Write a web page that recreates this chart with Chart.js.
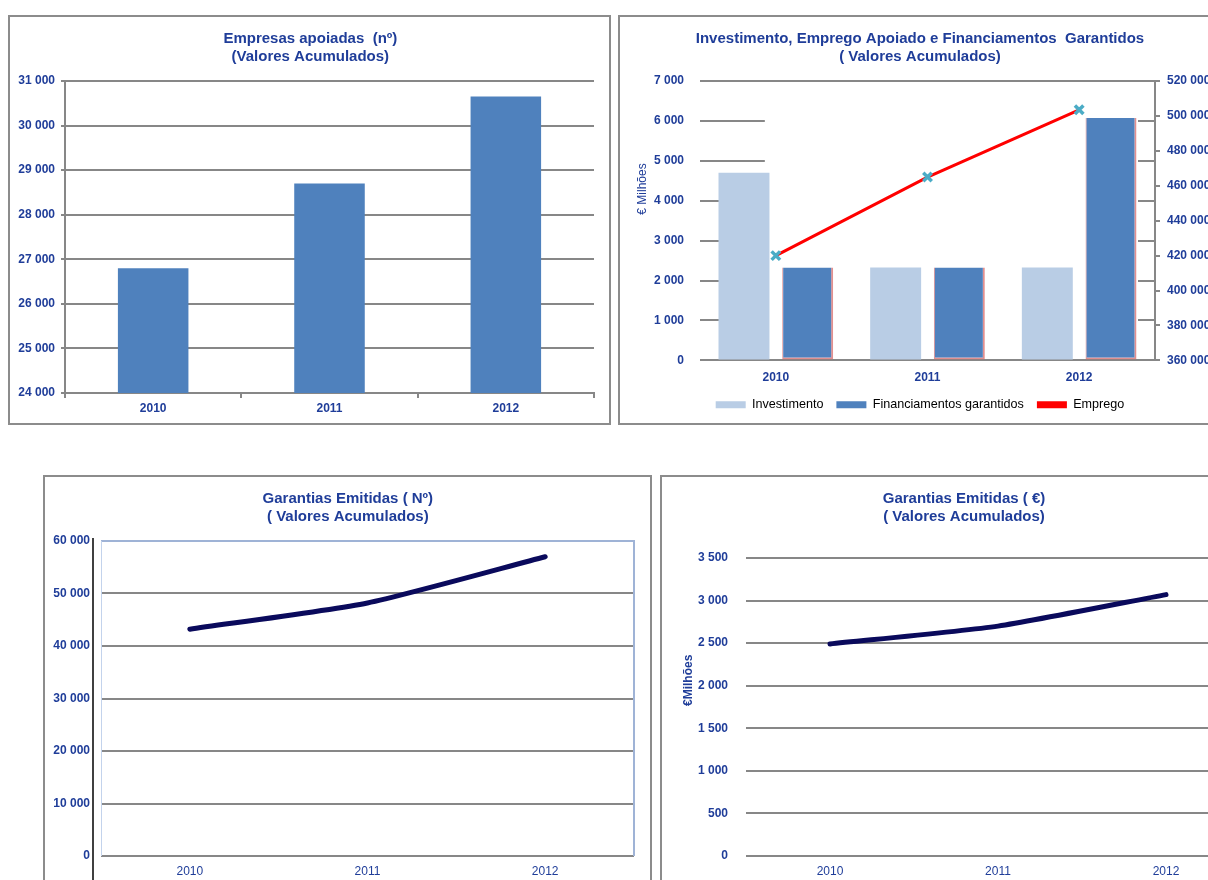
<!DOCTYPE html>
<html lang="pt">
<head>
<meta charset="UTF-8">
<title>Empresas apoiadas e garantias emitidas</title>
<script src="https://cdn.jsdelivr.net/npm/chart.js"></script>
<style>
  html, body { margin: 0; padding: 0; background: #fff; }
  body { width: 1208px; height: 880px; overflow: hidden; position: relative; }
  .panel { position: absolute; box-sizing: border-box; border: 2px solid #8c8c8c; background: #fff; }
  .panel canvas { position: absolute; left: 0; top: 0; }
</style>
</head>
<body>
  <div class="panel" style="left:8px; top:15px; width:603px; height:410px;">
    <canvas id="empresas" width="599" height="406"></canvas>
  </div>
  <div class="panel" style="left:618px; top:15px; width:620px; height:410px;">
    <canvas id="investimento" width="600" height="406"></canvas>
  </div>
  <div class="panel" style="left:43px; top:475px; width:609px; height:420px;">
    <canvas id="garantiasNum" width="605" height="410"></canvas>
  </div>
  <div class="panel" style="left:660px; top:475px; width:620px; height:420px;">
    <canvas id="garantiasEur" width="604" height="410"></canvas>
  </div>

<script>
  // dados
  const years = ['2010', '2011', '2012'];
  const empresasApoiadas = [26800, 28700, 30650];
  const investimento = [4700, 2330, 2330];
  const financiamentos = [2330, 2330, 6070];
  const emprego = [420000, 465000, 503500];
  const garantiasNum = [43200, 48200, 57000];
  const garantiasEur = [2490, 2700, 3070];

  const empresasTicks = { min: 24000, max: 31000, step: 1000 };
  const milhoesTicks = { min: 0, max: 7000, step: 1000 };
  const empregoTicks = { min: 360000, max: 520000, step: 20000 };
  const garantiasNumTicks = { min: 0, max: 60000, step: 10000 };
  const garantiasEurTicks = { min: 0, max: 3500, step: 500 };

  const BLUE = '#1f3d99';
  const GRID = '#878787';
  const LEGEND = '#34447a';
  const boldTick = { size: 12, weight: 'bold' };

  Chart.defaults.font.family = '"Liberation Sans", Arial, sans-serif';
  Chart.defaults.animation = false;

  const fmt = (v) => String(v).replace(/\B(?=(\d{3})+(?!\d))/g, ' ');
  const pad = (n) => '\u00a0'.repeat(n);

  const titleOpts = (lines, bottom) => ({
    display: true,
    text: lines,
    color: BLUE,
    font: { size: 15, weight: 'bold', lineHeight: 1.2 },
    padding: { top: 13, bottom: bottom }
  });

  const noTips = { legend: { display: false }, tooltip: { enabled: false } };

  // zona branca sobre as linhas de grelha (como no original)
  const maskPlugin = {
    id: 'mask',
    beforeDatasetsDraw(chart) {
      const { ctx, chartArea, scales } = chart;
      const x0 = scales.x.getPixelForValue(0) - 11;
      ctx.save();
      ctx.fillStyle = '#fff';
      ctx.fillRect(x0, chartArea.top + 2, chartArea.right - 17 - x0, chartArea.bottom - chartArea.top - 4);
      ctx.restore();
    }
  };

  // moldura azul clara e eixo preto do gráfico de garantias (nº)
  const framePlugin = {
    id: 'frame',
    beforeDatasetsDraw(chart) {
      const { ctx, chartArea: a } = chart;
      ctx.save();
      ctx.strokeStyle = '#9fb3d6';
      ctx.lineWidth = 2;
      ctx.beginPath();
      ctx.moveTo(a.left, a.top);
      ctx.lineTo(a.right, a.top);
      ctx.lineTo(a.right, a.bottom);
      ctx.stroke();
      ctx.lineWidth = 1;
      ctx.strokeStyle = '#c3d3ec';
      ctx.beginPath();
      ctx.moveTo(a.left + 0.5, a.top);
      ctx.lineTo(a.left + 0.5, a.bottom);
      ctx.stroke();
      ctx.strokeStyle = '#000';
      ctx.lineWidth = 1.5;
      ctx.beginPath();
      ctx.moveTo(a.left - 8, a.top - 3);
      ctx.lineTo(a.left - 8, chart.height);
      ctx.stroke();
      ctx.restore();
    }
  };

  new Chart(document.getElementById('empresas'), {
    type: 'bar',
    data: {
      labels: years,
      datasets: [{
        data: empresasApoiadas,
        backgroundColor: '#4f81bd',
        categoryPercentage: 0.8,
        barPercentage: 0.5
      }]
    },
    options: {
      responsive: false,
      layout: { padding: { left: 0, right: 15 } },
      plugins: { ...noTips, title: titleOpts([pad(4) + 'Empresas apoiadas  (nº)', pad(4) + '(Valores Acumulados)'], 15) },
      scales: {
        x: {
          grid: { drawOnChartArea: false, tickLength: 5, color: GRID, lineWidth: 2 },
          border: { color: GRID, width: 2 },
          ticks: { padding: 3, color: BLUE, font: boldTick },
          afterFit: (s) => { s.height = 30; }
        },
        y: {
          min: empresasTicks.min,
          max: empresasTicks.max,
          ticks: { stepSize: empresasTicks.step, padding: 6, color: BLUE, font: boldTick, callback: fmt },
          grid: { color: GRID, lineWidth: 2, tickLength: 4 },
          border: { color: GRID, width: 2 },
          afterFit: (s) => { s.width = 55; }
        }
      }
    }
  });

  new Chart(document.getElementById('investimento'), {
    type: 'bar',
    data: {
      labels: years,
      datasets: [
        {
          label: 'Investimento',
          data: investimento,
          backgroundColor: '#b9cde5',
          categoryPercentage: 0.84,
          barPercentage: 0.8,
          order: 2
        },
        {
          label: 'Financiamentos garantidos',
          data: financiamentos,
          backgroundColor: '#4f81bd',
          borderColor: 'rgba(214, 96, 96, 0.7)',
          borderWidth: { left: 1, right: 2, bottom: 2, top: 0 },
          borderSkipped: false,
          categoryPercentage: 0.84,
          barPercentage: 0.8,
          order: 2
        },
        {
          type: 'line',
          label: 'Emprego',
          data: emprego,
          yAxisID: 'y1',
          borderColor: '#ff0000',
          backgroundColor: '#ff0000',
          borderWidth: 3,
          pointStyle: 'crossRot',
          pointRadius: 6,
          pointBorderColor: '#4bacc6',
          pointBorderWidth: 3.5,
          order: 1
        }
      ]
    },
    plugins: [maskPlugin],
    options: {
      responsive: false,
      layout: { padding: { bottom: 2 } },
      plugins: {
        tooltip: { enabled: false },
        title: titleOpts(['Investimento, Emprego Apoiado e Financiamentos  Garantidos', '( Valores Acumulados)'], 15),
        legend: {
          position: 'bottom',
          labels: {
            boxWidth: 30,
            boxHeight: 7,
            padding: 13,
            color: LEGEND,
            font: { size: 12.6 },
            generateLabels: (chart) => chart.data.datasets.map((ds, i) => ({
              text: ds.label,
              fillStyle: ds.type === 'line' ? ds.borderColor : ds.backgroundColor,
              strokeStyle: ds.type === 'line' ? ds.borderColor : ds.backgroundColor,
              lineWidth: 0,
              hidden: false,
              datasetIndex: i
            }))
          }
        }
      },
      scales: {
        x: {
          grid: { display: false, drawTicks: false },
          border: { display: false },
          ticks: { padding: 10, color: BLUE, font: boldTick },
          afterFit: (s) => { s.height = 25; }
        },
        y: {
          min: milhoesTicks.min,
          max: milhoesTicks.max,
          ticks: { stepSize: milhoesTicks.step, padding: 16, color: BLUE, font: boldTick, callback: fmt },
          grid: { color: GRID, lineWidth: 2, drawTicks: false },
          border: { display: false },
          title: {
            display: true,
            text: pad(19) + '€ Milhões',
            color: BLUE,
            font: { size: 12 },
            padding: { top: 15, bottom: 0 }
          },
          afterFit: (s) => { s.width = 80; }
        },
        y1: {
          position: 'right',
          min: empregoTicks.min,
          max: empregoTicks.max,
          ticks: { stepSize: empregoTicks.step, padding: 7, color: BLUE, font: boldTick, callback: fmt },
          grid: { drawOnChartArea: false, tickLength: 5, color: GRID, lineWidth: 2 },
          border: { color: GRID, width: 2 },
          afterFit: (s) => { s.width = 65; }
        }
      }
    }
  });

  const lineDataset = (values) => ({
    data: values,
    borderColor: '#0a0a5c',
    borderWidth: 5,
    borderCapStyle: 'round',
    pointRadius: 0,
    tension: 0.2
  });

  const lineX = {
    offset: true,
    grid: { display: false, drawTicks: false },
    border: { display: false },
    ticks: { padding: 8, color: BLUE, font: { size: 12 } },
    afterFit: (s) => { s.height = 31; }
  };

  new Chart(document.getElementById('garantiasNum'), {
    type: 'line',
    data: { labels: years, datasets: [lineDataset(garantiasNum)] },
    plugins: [framePlugin],
    options: {
      responsive: false,
      layout: { padding: { left: 0, right: 16 } },
      plugins: { ...noTips, title: titleOpts([pad(4) + 'Garantias Emitidas ( Nº)', pad(4) + '( Valores Acumulados)'], 15) },
      scales: {
        x: lineX,
        y: {
          min: garantiasNumTicks.min,
          max: garantiasNumTicks.max,
          ticks: { stepSize: garantiasNumTicks.step, padding: 11, color: BLUE, font: boldTick, callback: fmt },
          grid: { color: GRID, lineWidth: 2, drawTicks: false },
          border: { display: false },
          afterFit: (s) => { s.width = 56; }
        }
      }
    }
  });

  new Chart(document.getElementById('garantiasEur'), {
    type: 'line',
    data: { labels: years, datasets: [lineDataset(garantiasEur)] },
    options: {
      responsive: false,
      layout: { padding: { left: 16, right: 16 } },
      plugins: { ...noTips, title: titleOpts(['Garantias Emitidas ( €)', '( Valores Acumulados)'], 32) },
      scales: {
        x: lineX,
        y: {
          min: garantiasEurTicks.min,
          max: garantiasEurTicks.max,
          ticks: { stepSize: garantiasEurTicks.step, padding: 18, color: BLUE, font: boldTick, callback: fmt },
          grid: { color: GRID, lineWidth: 2, drawTicks: false },
          border: { display: false },
          title: {
            display: true,
            text: pad(16) + '€Milhões',
            color: BLUE,
            font: { size: 12, weight: 'bold' },
            padding: { top: 3, bottom: 0 }
          },
          afterFit: (s) => { s.width = 68; }
        }
      }
    }
  });
</script>
</body>
</html>
